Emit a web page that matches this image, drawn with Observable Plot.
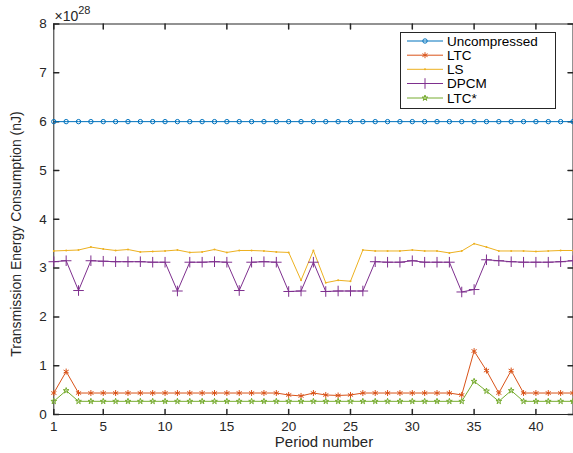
<!DOCTYPE html>
<html>
<head>
<meta charset="utf-8">
<script src="https://cdn.jsdelivr.net/npm/d3@7"></script>
<script src="https://cdn.jsdelivr.net/npm/@observablehq/plot@0.6"></script>
<style>
  html, body { margin: 0; padding: 0; background: #fff; }
  #chart { width: 573px; height: 453px; overflow: hidden; }
  svg { display: block; }
</style>
</head>
<body>
<div id="chart"></div>
<script>
// ---- data (values in units of 1e28 nJ) ----
const periods = [1,2,3,4,5,6,7,8,9,10,11,12,13,14,15,16,17,18,19,20,21,22,23,24,25,26,27,28,29,30,31,32,33,34,35,36,37,38,39,40,41,42,43];
const uncompressed = [6,6,6,6,6,6,6,6,6,6,6,6,6,6,6,6,6,6,6,6,6,6,6,6,6,6,6,6,6,6,6,6,6,6,6,6,6,6,6,6,6,6,6];
const ltc = [0.44,0.88,0.44,0.44,0.44,0.44,0.44,0.44,0.44,0.44,0.44,0.44,0.44,0.44,0.44,0.44,0.44,0.44,0.44,0.40,0.38,0.44,0.40,0.39,0.40,0.44,0.44,0.44,0.44,0.44,0.44,0.44,0.44,0.40,1.30,0.90,0.44,0.90,0.44,0.44,0.44,0.44,0.44];
const ls = [3.35,3.36,3.37,3.43,3.39,3.36,3.38,3.33,3.34,3.35,3.37,3.32,3.33,3.38,3.32,3.36,3.36,3.35,3.33,3.32,2.75,3.36,2.70,2.75,2.73,3.37,3.35,3.35,3.35,3.37,3.35,3.35,3.31,3.35,3.50,3.43,3.35,3.35,3.35,3.34,3.35,3.36,3.36];
const dpcm = [3.13,3.15,2.54,3.15,3.14,3.13,3.13,3.13,3.12,3.12,2.53,3.12,3.12,3.13,3.12,2.54,3.12,3.13,3.12,2.52,2.53,3.12,2.52,2.53,2.53,2.53,3.13,3.12,3.12,3.15,3.12,3.12,3.12,2.51,2.56,3.17,3.15,3.13,3.12,3.12,3.12,3.13,3.15];
const ltcStar = [0.27,0.49,0.27,0.27,0.27,0.27,0.27,0.27,0.27,0.27,0.27,0.27,0.27,0.27,0.27,0.27,0.27,0.27,0.27,0.27,0.27,0.27,0.27,0.27,0.27,0.27,0.27,0.27,0.27,0.27,0.27,0.27,0.27,0.27,0.68,0.48,0.27,0.49,0.27,0.27,0.27,0.27,0.27];

const seriesNames = ["Uncompressed", "LTC", "LS", "DPCM", "LTC*"];
const seriesValues = [uncompressed, ltc, ls, dpcm, ltcStar];
const seriesColors = ["#0072BD", "#D95319", "#EDB120", "#7E2F8E", "#77AC30"];
const seriesSymbols = ["circle", "asterisk", "dot", "plus", "star"];

const xTicks = [1, 5, 10, 15, 20, 25, 30, 35, 40];
const yTicks = [0, 1, 2, 3, 4, 5, 6, 7, 8];
const xLabel = "Period number";
const yLabel = "Transmission Energy Consumption (nJ)";
const exponentBase = "\u00d710";
const exponentPower = "28";

// ---- build table ----
const rows = [];
seriesNames.forEach((name, s) => {
  periods.forEach((p, i) => rows.push({series: name, period: p, value: seriesValues[s][i]}));
});

const axisColor = "#262626";
const tickLine = {draw(context, l) { context.moveTo(0, 0); context.lineTo(0, -l); }};

const markSizes = {circle: 2.2, asterisk: 2.8, plus: 3.5, star: 1.8};

const marks = [
  Plot.frame({stroke: axisColor, strokeWidth: 1}),
  // inward ticks
  Plot.vectorX(xTicks, {x: d => d, frameAnchor: "bottom", length: 5, rotate: 0, anchor: "start", shape: tickLine, stroke: axisColor}),
  Plot.vectorX(xTicks, {x: d => d, frameAnchor: "top", length: 5, rotate: 180, anchor: "start", shape: tickLine, stroke: axisColor}),
  Plot.vectorY(yTicks, {y: d => d, frameAnchor: "left", length: 5, rotate: 90, anchor: "start", shape: tickLine, stroke: axisColor}),
  Plot.vectorY(yTicks, {y: d => d, frameAnchor: "right", length: 5, rotate: -90, anchor: "start", shape: tickLine, stroke: axisColor}),
  Plot.axisX({ticks: xTicks, tickSize: 0, tickPadding: 7, label: null, fontSize: 13.5, fill: axisColor}),
  Plot.axisY({ticks: yTicks, tickSize: 0, tickPadding: 7, label: null, fontSize: 13.5, fill: axisColor}),
  Plot.line(rows, {x: "period", y: "value", z: "series", stroke: "series", strokeWidth: 1})
];

seriesNames.forEach((name, s) => {
  const sym = seriesSymbols[s];
  const data = rows.filter(d => d.series === name);
  if (sym === "dot") {
    marks.push(Plot.dot(data, {x: "period", y: "value", r: 1, fill: seriesColors[s], stroke: "none"}));
  } else {
    marks.push(Plot.dot(data, {x: "period", y: "value", symbol: sym, r: markSizes[sym], stroke: seriesColors[s], fill: "none", strokeWidth: 1}));
  }
});

const chart = Plot.plot({
  width: 573,
  height: 453,
  marginLeft: 53.3,
  marginRight: 0.5,
  marginTop: 23.5,
  marginBottom: 39,
  style: {fontFamily: "'Liberation Sans', Arial, Helvetica, sans-serif", fontSize: "13px", color: axisColor, background: "#fff"},
  x: {domain: [1, 43]},
  y: {domain: [0, 8]},
  color: {domain: seriesNames, range: seriesColors},
  marks
});

document.getElementById("chart").appendChild(chart);

// ---- titles, exponent, legend ----
const svg = d3.select(chart);
const font = "'Liberation Sans', Arial, Helvetica, sans-serif";

svg.append("text")
  .attr("x", 324).attr("y", 447)
  .attr("text-anchor", "middle")
  .attr("font-family", font).attr("font-size", 15).attr("fill", axisColor)
  .text(xLabel);

svg.append("text")
  .attr("transform", "translate(20.5,234) rotate(-90)")
  .attr("text-anchor", "middle")
  .attr("font-family", font).attr("font-size", 14).attr("fill", axisColor)
  .text(yLabel);

const ex = svg.append("text")
  .attr("x", 54.5).attr("y", 21)
  .attr("text-anchor", "start")
  .attr("font-family", font).attr("font-size", 14).attr("fill", axisColor);
ex.append("tspan").text(exponentBase);
ex.append("tspan").attr("dy", -7).attr("font-size", 11).text(exponentPower);

const lg = svg.append("g");
lg.append("rect")
  .attr("x", 400.5).attr("y", 32.5).attr("width", 155).attr("height", 76)
  .attr("fill", "#fff").attr("stroke", axisColor).attr("stroke-width", 1);

const symbolMap = {circle: d3.symbolCircle, asterisk: d3.symbolAsterisk, plus: d3.symbolPlus, star: d3.symbolStar};
const entryY = [41, 55.2, 69.3, 83.5, 98];
seriesNames.forEach((name, s) => {
  const y = entryY[s];
  lg.append("line").attr("x1", 407).attr("x2", 443).attr("y1", y).attr("y2", y)
    .attr("stroke", seriesColors[s]).attr("stroke-width", 1);
  const sym = seriesSymbols[s];
  if (sym === "dot") {
    lg.append("circle").attr("cx", 425).attr("cy", y).attr("r", 1).attr("fill", seriesColors[s]);
  } else {
    const r = markSizes[sym];
    lg.append("path")
      .attr("transform", `translate(425,${y})`)
      .attr("d", d3.symbol(symbolMap[sym], Math.PI * r * r)())
      .attr("fill", "none").attr("stroke", seriesColors[s]).attr("stroke-width", 1);
  }
  lg.append("text").attr("x", 447).attr("y", y).attr("dy", "0.35em")
    .attr("text-anchor", "start")
    .attr("font-family", font).attr("font-size", 13.5).attr("fill", "#000")
    .text(name);
});
</script>
</body>
</html>
